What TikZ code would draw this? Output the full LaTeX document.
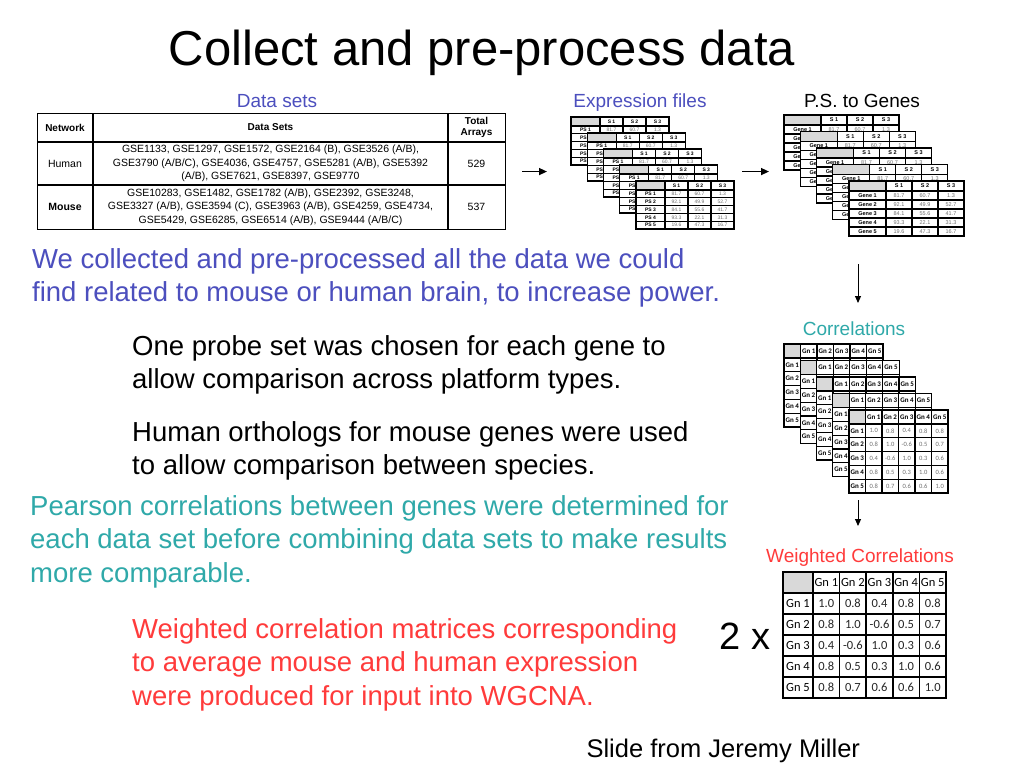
\documentclass[tikz,border=0pt]{standalone}
\usepackage{fontspec}
\setmainfont{Liberation Sans}
\newfontfamily\carlito{Carlito}
\usetikzlibrary{arrows.meta,calc}
\definecolor{SlideBlue}{HTML}{4C4FBE}
\definecolor{SlideTeal}{HTML}{2FA9A9}
\definecolor{SlideRed}{HTML}{FF3B3B}
\definecolor{HeadGrey}{HTML}{D9D9D9}
\definecolor{ValGrey}{HTML}{6F6F6F}
\newcommand{\sz}[2]{\fontsize{#1}{#2}\selectfont}
\newcommand{\showrows}{5}
% #1 scope options, #2 name, #3 first column, #4 column, #5 columns,
% #6 header height, #7 row height, #8 headers, #9 rows
\newcommand{\gridtab}[9]{%
  \begin{scope}[#1]
    \pgfmathsetmacro\tw{#3+#4*#5}
    \pgfmathsetmacro\th{#6+5*#7}
    \coordinate (#2-nw) at (0,0);
    \coordinate (#2-se) at (\tw,\th);
    \fill[white] (0,0) rectangle (\tw,\th);
    \fill[HeadGrey] (0,0) rectangle (#3,#6);
    \foreach \hd [count=\cl] in {#8}
      \node[lab] (#2-h\cl) at ({#3+(\cl-0.5)*#4},{#6/2}) {\hd};
    \foreach \lb/\vals [count=\rw] in {#9}{
      \node[lab] (#2-r\rw) at ({#3/2},{#6+(\rw-0.5)*#7}) {\lb};
      \foreach \cellv [count=\cl] in \vals {%
        \ifnum\rw>\showrows\relax\else
        \node[val] (#2-\rw-\cl) at ({#3+(\cl-0.5)*#4},{#6+(\rw-0.5)*#7}) {\cellv};
        \fi}
    }
    \draw[gridline] (0,0) rectangle (\tw,\th);
    \foreach \cl in {0,...,#5} \draw[gridline] ({#3+\cl*#4},0) -- ({#3+\cl*#4},\th);
    \foreach \rw in {0,...,4} \draw[gridline] (0,{#6+\rw*#7}) -- (\tw,{#6+\rw*#7});
  \end{scope}}

\begin{document}
\begin{tikzpicture}[x=1pt, y=-1pt,
  gridline/.style={line width=1.2pt},
  lab/.style={inner sep=0pt},
  val/.style={inner sep=0pt},
  tabline/.style={line width=1.1pt},
  subtitle/.style={anchor=base, font=\sz{19}{19}},
  para/.style={anchor=north west, inner sep=0pt, align=left, font=\sz{27.5}{33.3}},
  flow/.style={-{Triangle[length=8pt,width=7pt]}, line width=1.5pt},
  thinflow/.style={-{Triangle[length=7pt,width=6pt]}, line width=1pt}]
\fill[white] (0,0) rectangle (1024,768);
\useasboundingbox (0,0) rectangle (1024,768);

\node[anchor=base, font=\sz{49}{49}] (title) at (482,66) {Collect and pre-process data};

% data sets table
\node[subtitle, text=SlideBlue] (dsT) at (277,107) {Data sets};
\node[draw, tabline, anchor=north west, inner sep=0pt, minimum width=468pt, minimum height=116pt] (dstab) at (37,113) {};
\draw[tabline] (93,113) -- (93,229);
\draw[tabline] (448,113) -- (448,229);
\draw[tabline] (37,142) -- (505,142);
\draw[tabline] (37,185) -- (505,185);
\begin{scope}[font=\sz{10.5}{13.5}, align=center]
\node[font=\bfseries\sz{10}{11}] (hnet) at (65,127.5) {Network};
\node[font=\bfseries\sz{10}{11}] (hsets) at (270.5,127.5) {Data Sets};
\node[font=\bfseries\sz{10}{11}] (htot) at (476.5,127.5) {Total\\Arrays};
\node (human) at (65,163.5) {Human};
\node (humsets) at (270.5,163.5) {GSE1133, GSE1297, GSE1572, GSE2164 (B), GSE3526 (A/B),\\GSE3790 (A/B/C), GSE4036, GSE4757, GSE5281 (A/B), GSE5392\\(A/B), GSE7621, GSE8397, GSE9770};
\node (humtot) at (476.5,163.5) {529};
\node[font=\bfseries\sz{10.5}{13.5}] (mouse) at (65,207) {Mouse};
\node (mousets) at (270.5,207) {GSE10283, GSE1482, GSE1782 (A/B), GSE2392, GSE3248,\\GSE3327 (A/B), GSE3594 (C), GSE3963 (A/B), GSE4259, GSE4734,\\GSE5429, GSE6285, GSE6514 (A/B), GSE9444 (A/B/C)};
\node (mousetot) at (476.5,207) {537};
\end{scope}

% expression files
\node[subtitle, text=SlideBlue] (exT) at (640,107) {Expression files};
\foreach \k in {0,...,4}{
  \ifnum\k<4 \def\showrows{1}\else\def\showrows{5}\fi
  \gridtab{shift={(571+16.25*\k,117+16*\k)}, lab/.style={inner sep=0pt, font=\bfseries\sz{5}{5}}, val/.style={inner sep=0pt, font=\sz{5}{5}, text=ValGrey}}{ex\k}{29}{23}{3}{9}{7.8}{S 1,S 2,S 3}{PS 1/{81.7,60.7,1.3},PS 2/{92.1,49.9,52.7},PS 3/{84.1,55.6,41.7},PS 4/{93.3,22.1,31.3},PS 5/{19.6,47.3,16.7}}
}

% probe sets to genes
\node[subtitle] (psT) at (862,107) {P.S. to Genes};
\foreach \k in {0,...,4}{
  \ifnum\k<4 \def\showrows{1}\else\def\showrows{5}\fi
  \gridtab{shift={(784+16.25*\k,115+16.5*\k)}, lab/.style={inner sep=0pt, font=\bfseries\sz{5.5}{5.5}}, val/.style={inner sep=0pt, font=\sz{5.5}{5.5}, text=ValGrey}}{ps\k}{37}{26}{3}{10}{9}{S 1,S 2,S 3}{Gene 1/{81.7,60.7,1.3},Gene 2/{92.1,49.9,52.7},Gene 3/{84.1,55.6,41.7},Gene 4/{93.3,22.1,31.3},Gene 5/{19.6,47.3,16.7}}
}

% correlations
\node[subtitle, text=SlideTeal] (corrT) at (854,335) {Correlations};
\foreach \k in {0,...,4}{
  \ifnum\k<4 \def\showrows{0}\else\def\showrows{5}\fi
  \gridtab{shift={(784+16.25*\k,344+16.5*\k)}, lab/.style={inner sep=0pt, font=\carlito\bfseries\sz{7}{7}}, val/.style={inner sep=0pt, font=\carlito\sz{6.5}{6.5}, text=ValGrey}}{co\k}{16.5}{16.5}{5}{14}{13.8}{Gn 1,Gn 2,Gn 3,Gn 4,Gn 5}{Gn 1/{1.0,0.8,0.4,0.8,0.8},Gn 2/{0.8,1.0,-0.6,0.5,0.7},Gn 3/{0.4,-0.6,1.0,0.3,0.6},Gn 4/{0.8,0.5,0.3,1.0,0.6},Gn 5/{0.8,0.7,0.6,0.6,1.0}}
}

% weighted correlations
\node[subtitle, text=SlideRed] (wcT) at (860,562) {Weighted Correlations};
\gridtab{shift={(783,572)}, gridline/.style={line width=1.5pt}, lab/.style={inner sep=0pt, font=\carlito\sz{12.5}{12.5}}, val/.style={inner sep=0pt, font=\carlito\sz{12.5}{12.5}, text=black!85}}{wc}{30}{26.6}{5}{21}{21}{Gn 1,Gn 2,Gn 3,Gn 4,Gn 5}{Gn 1/{1.0,0.8,0.4,0.8,0.8},Gn 2/{0.8,1.0,-0.6,0.5,0.7},Gn 3/{0.4,-0.6,1.0,0.3,0.6},Gn 4/{0.8,0.5,0.3,1.0,0.6},Gn 5/{0.8,0.7,0.6,0.6,1.0}}
\node[anchor=base, font=\sz{38}{38}] (twox) at (745,649) {2 x};

% arrows
\draw[flow] ($(dstab.east)+(16,0)$) -- ($(dstab.east -| ex0-nw)+(-24,0)$);
\draw[flow] ($(dstab.east -| ex4-se)+(8,0)$) -- ($(dstab.east -| ps0-nw)+(-15,0)$);
\coordinate (down1a) at (858,264);
\coordinate (down1b) at (858,303);
\coordinate (down2a) at (858,500);
\coordinate (down2b) at (858,526);
\draw[thinflow] (down1a) -- (down1b);
\draw[thinflow] (down2a) -- (down2b);

% text blocks
\node[para, text=SlideBlue] (collect) at (32,248.3) {We collected and pre-processed all the data we could\\find related to mouse or human brain, to increase power.};
\node[para] (probe) at (132,335.3) {One probe set was chosen for each gene to\\allow comparison across platform types.};
\node[para] (ortho) at (132,421.3) {Human orthologs for mouse genes were used\\to allow comparison between species.};
\node[para, text=SlideTeal] (pearson) at (30,495.3) {Pearson correlations between genes were determined for\\each data set before combining data sets to make results\\more comparable.};
\node[para, text=SlideRed] (weighted) at (132,618.3) {Weighted correlation matrices corresponding\\to average mouse and human expression\\were produced for input into WGCNA.};
\node[anchor=base west, font=\sz{25.5}{25.5}] (credit) at (583,757) {Slide from Jeremy Miller};
\end{tikzpicture}
\end{document}
